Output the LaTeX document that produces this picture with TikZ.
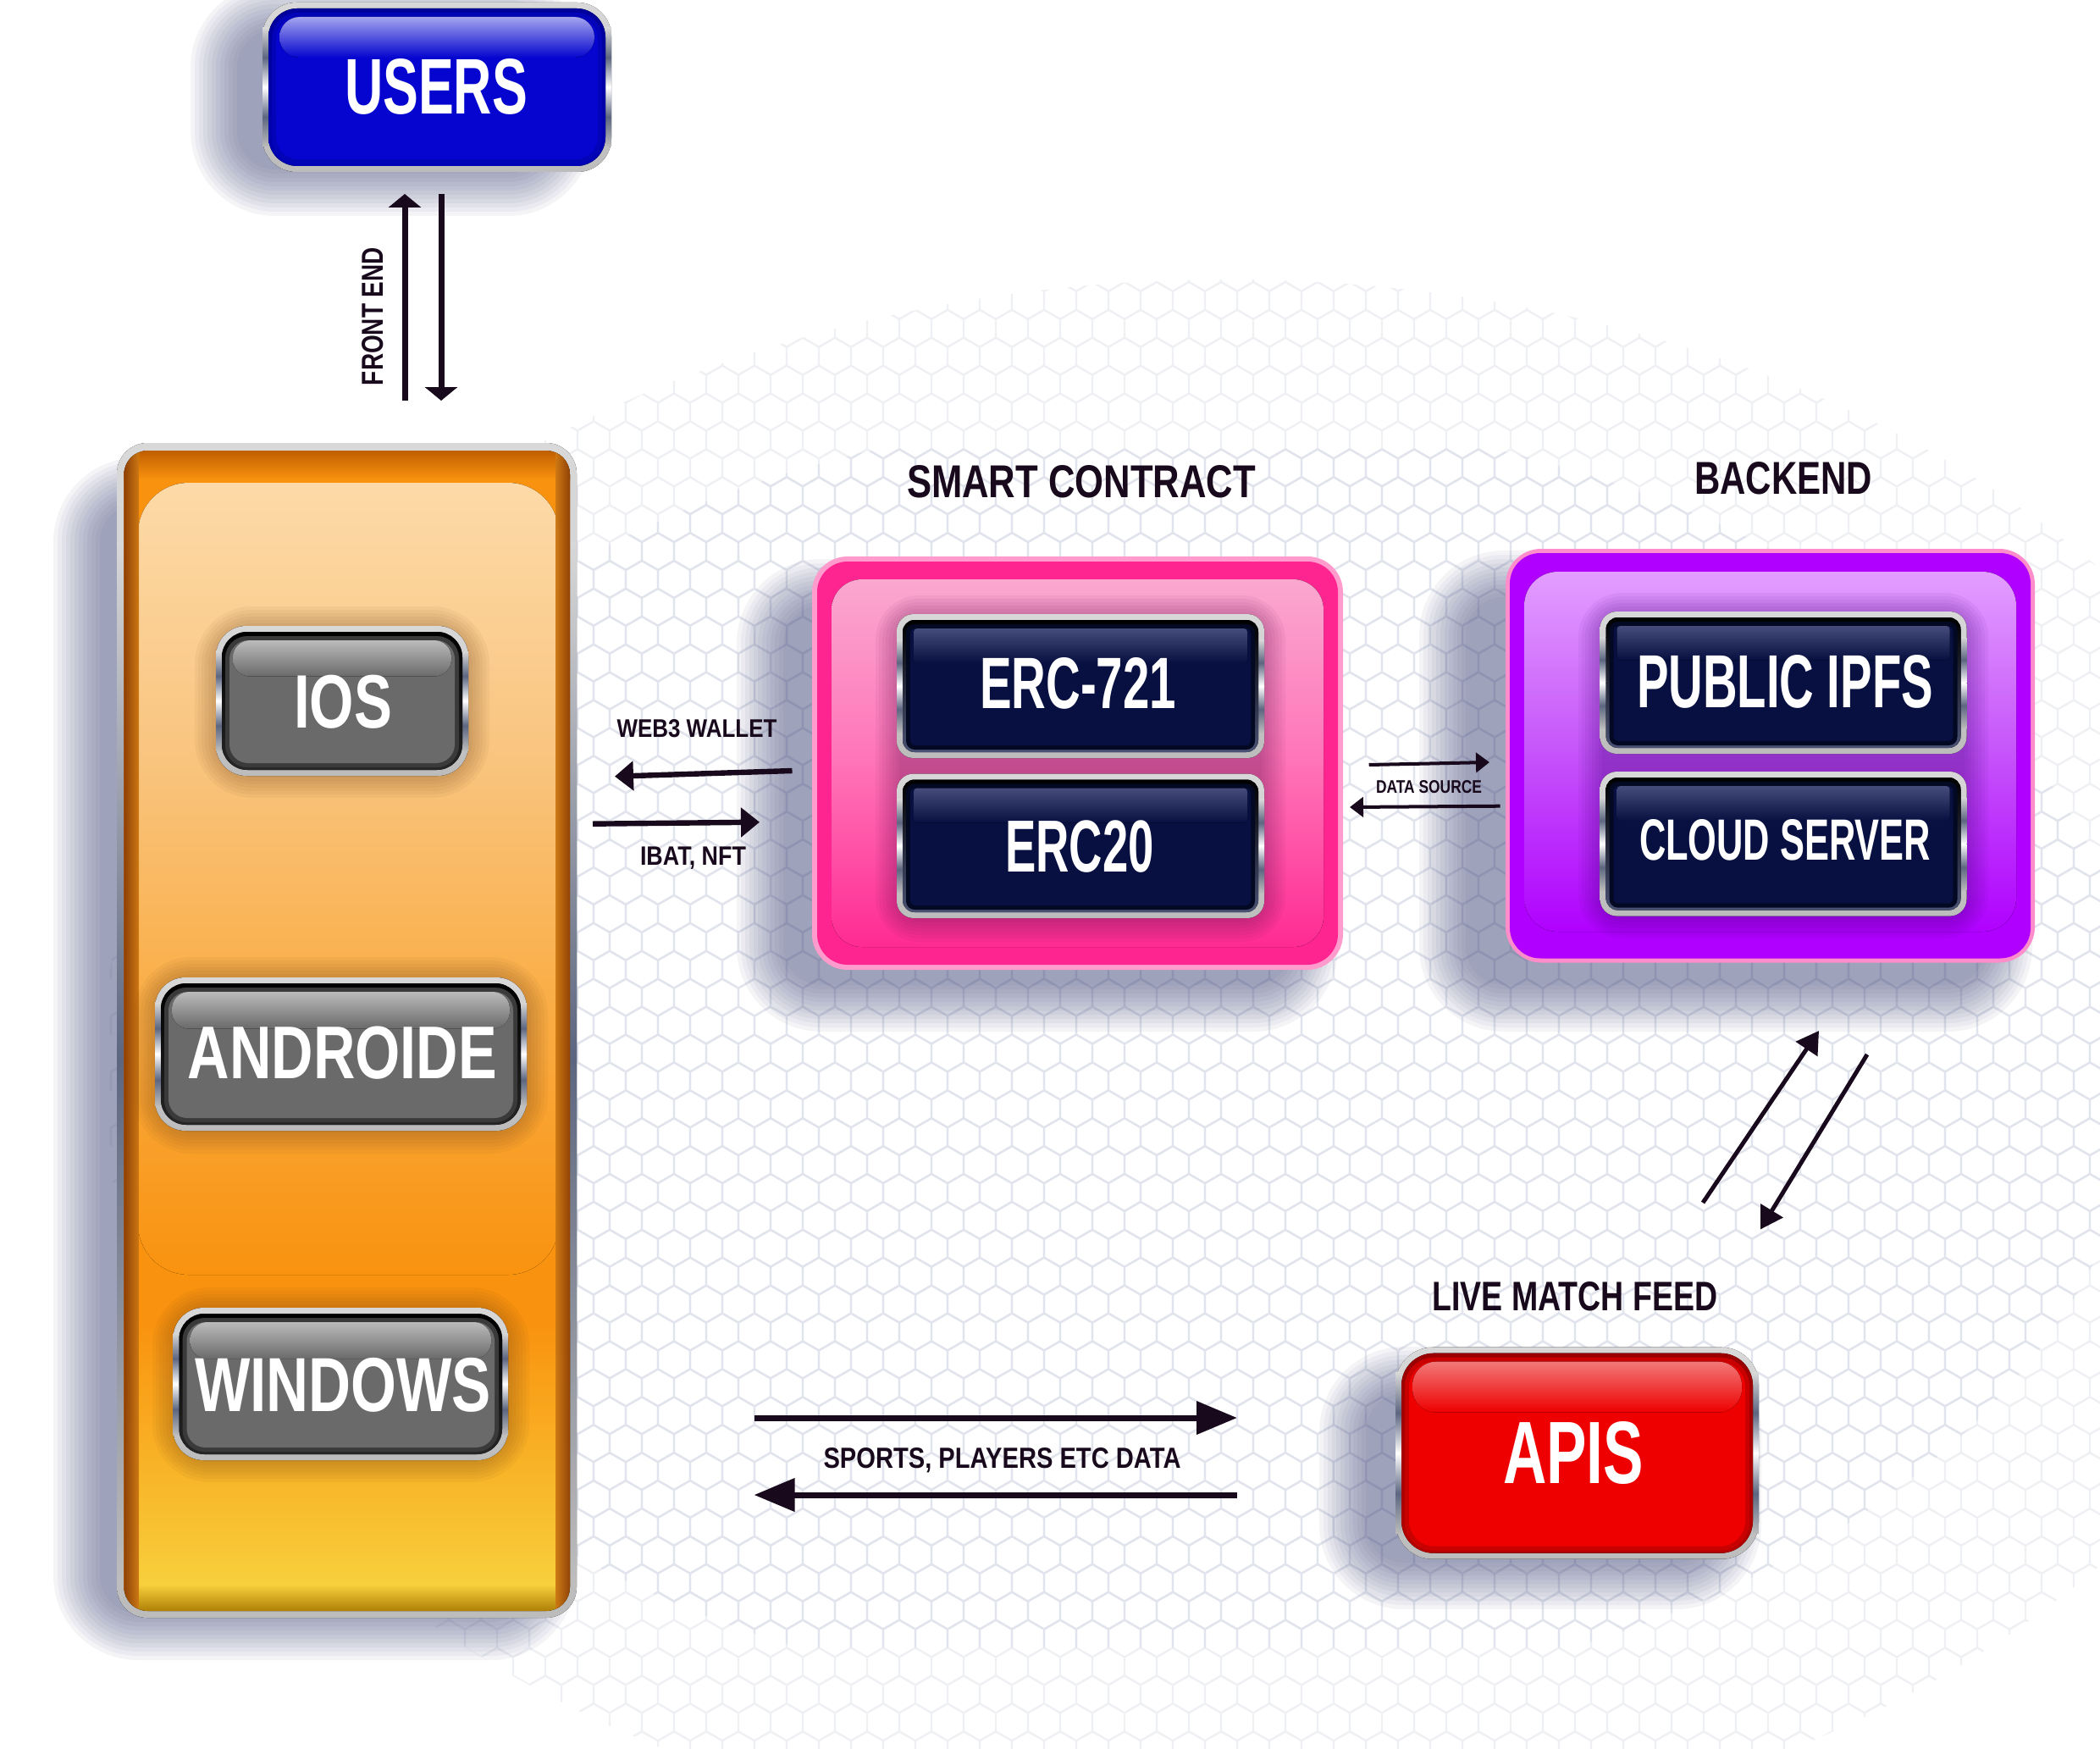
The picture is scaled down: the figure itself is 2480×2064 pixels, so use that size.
\documentclass[tikz,border=0pt]{standalone}
\usepackage{fontspec}
\setmainfont{Liberation Sans}
\usetikzlibrary{arrows.meta}
\definecolor{ink}{HTML}{180A1C}
\definecolor{silT}{HTML}{D8D8D8}
\definecolor{silB}{HTML}{BCBCBC}
\definecolor{hexo}{HTML}{EFF0F4}
\definecolor{hexi}{HTML}{E1E4EC}
\definecolor{shc}{HTML}{4A5282}
\definecolor{slate}{HTML}{5C6680}
% orange
\definecolor{orTop}{HTML}{B85800}
\definecolor{orA}{HTML}{F9920E}
\definecolor{orC}{HTML}{F8CF3C}
\definecolor{orD}{HTML}{A87800}
\definecolor{orEdge}{HTML}{8A3000}
\definecolor{orEdgeIn}{HTML}{F59018}
\definecolor{peA}{HTML}{FDDAA8}
\definecolor{peB}{HTML}{F9C47E}
\definecolor{peC}{HTML}{FAB04C}
\definecolor{orGlow}{HTML}{6E4018}
% pink
\definecolor{pkBorder}{HTML}{FF9CCD}
\definecolor{pkBody}{HTML}{FF2590}
\definecolor{pkA}{HTML}{FAA8D0}
\definecolor{pkB}{HTML}{FF74B8}
\definecolor{pkC}{HTML}{FF2A92}
\definecolor{pkGlow}{HTML}{5A0A4A}
% purple
\definecolor{puBorder}{HTML}{FF8CCB}
\definecolor{puBody}{HTML}{B000FF}
\definecolor{puA}{HTML}{E39EFF}
\definecolor{puB}{HTML}{C450FA}
\definecolor{puGlow}{HTML}{3A0070}

\newcommand\fitt[3]{\resizebox{#1pt}{#2pt}{\bfseries #3}}

% soft shadow: x1 y1 x2 y2 colour radius
\newcommand\softsh[6]{%
  \foreach \k in {1,...,12}{%
    \fill[#5, opacity=0.06, rounded corners={#6+\k*1.25pt}] ({#1-\k*5},{#2-\k*5}) rectangle ({#3+\k*5},{#4+\k*5});}}
% small inner glow shadow
\newcommand\glowsh[6]{%
  \foreach \k in {1,...,8}{%
    \fill[#5, opacity=0.05, rounded corners={#6+\k*1pt}] ({#1-\k*4},{#2-\k*4}) rectangle ({#3+\k*4},{#4+\k*4});}}

% glossy button: x1 y1 x2 y2 radius  (colours rimT rimB bodyC glossC)
\newcommand\gbtn[5]{%
  \fill[top color=silT, bottom color=silB, rounded corners=#5] (#1,#2) rectangle (#3,#4);
  \fill[top color=silT, bottom color=white, middle color=slate] (#1,{#2+30}) rectangle ({#1+7},{(#2+#4)/2});
  \fill[top color=white, bottom color=silB, middle color=slate] (#1,{(#2+#4)/2}) rectangle ({#1+7},{#4-30});
  \fill[top color=silT, bottom color=white, middle color=slate] ({#3-7},{#2+30}) rectangle (#3,{(#2+#4)/2});
  \fill[top color=white, bottom color=silB, middle color=slate] ({#3-7},{(#2+#4)/2}) rectangle (#3,{#4-30});
  \fill[top color=rimT, bottom color=rimB, rounded corners={#5-1.5pt}] ({#1+7},{#2+7}) rectangle ({#3-7},{#4-7});
  \fill[rimT!45!bodyC, rounded corners={#5-2.5pt}] ({#1+11},{#2+12}) rectangle ({#3-11},{#4-10});
  \fill[bodyC, rounded corners={#5-3.5pt}] ({#1+16},{#2+17}) rectangle ({#3-16},{#4-15});
  \fill[top color=glossC, bottom color=bodyC, rounded corners={#5-4pt}] ({#1+20},{#2+17}) rectangle ({#3-20},{#2+17+0.24*(#4-#2)});
}
\newcommand\graybtn{\colorlet{rimT}{black}\colorlet{rimB}{black!85}\definecolor{bodyC}{HTML}{6A6A6A}\definecolor{glossC}{HTML}{BBBBBB}}
\newcommand\navybtn{\colorlet{rimT}{black}\definecolor{rimB}{HTML}{4A5274}\definecolor{bodyC}{HTML}{071040}\definecolor{glossC}{HTML}{454C7C}}
\newcommand\bluebtn{\definecolor{rimT}{HTML}{00009A}\definecolor{rimB}{HTML}{0000B4}\definecolor{bodyC}{HTML}{0505CF}\definecolor{glossC}{HTML}{A4A4EE}}
\newcommand\redbtn{\definecolor{rimT}{HTML}{9A0000}\definecolor{rimB}{HTML}{B40000}\definecolor{bodyC}{HTML}{EE0000}\definecolor{glossC}{HTML}{F27878}}

\begin{document}
\begin{tikzpicture}[x=0.25pt,y=-0.25pt,
  lbl/.style={inner sep=0pt, outer sep=0pt, anchor=base, text=ink},
  wtxt/.style={inner sep=0pt, outer sep=0pt, anchor=base, text=white},
  hexline/.style={line width=0.6pt, line join=round},
  arrF/.style={draw=ink, line width=1.75pt, -{Triangle[length=4pt,width=9.5pt]}},
  arrW/.style={draw=ink, line width=1.6pt, -{Triangle[length=5.5pt,width=8.5pt]}},
  arrD/.style={draw=ink, line width=1pt, -{Triangle[length=4pt,width=5.8pt]}},
  arrS/.style={draw=ink, line width=1.75pt, -{Triangle[length=12pt,width=9.5pt]}},
  arrG/.style={draw=ink, line width=1.25pt, -{Triangle[length=6.5pt,width=7.5pt]}}]

\useasboundingbox (0,0) rectangle (2480,2064);
\fill[white] (0,0) rectangle (2480,2064);

% ---------- hexagon background (two tones to fake a fade) ----------
\begin{scope}
\clip (1450,1260) ellipse [x radius=1330, y radius=930];
\draw[hexline, hexo]
  \foreach \j in {0,...,54}{ \foreach \i in {0,...,61}{
    ({131+38*\i+19*mod(\j,2)},{300+32.91*\j}) -- ++(0,-21.94) -- ++(19,-10.97) -- ++(19,10.97) } };
\end{scope}
\begin{scope}
\clip (1400,1250) ellipse [x radius=1130, y radius=760];
\draw[hexline, hexi]
  \foreach \j in {8,...,50}{ \foreach \i in {3,...,61}{
    ({131+38*\i+19*mod(\j,2)},{300+32.91*\j}) -- ++(0,-21.94) -- ++(19,-10.97) -- ++(19,10.97) } };
\end{scope}

% ---------- soft drop shadows ----------
\softsh{285}{40}{640}{195}{shc}{10pt}
\softsh{123}{600}{620}{1900}{shc}{10pt}
\softsh{930}{720}{1520}{1158}{shc}{10pt}
\softsh{1736}{710}{2340}{1158}{shc}{10pt}
\softsh{1618}{1650}{2020}{1840}{shc}{10pt}

% ---------- USERS ----------
\bluebtn
\gbtn{310}{3}{722}{203}{10pt}
\node[wtxt] (users) at (515,135) {\fitt{54}{16.25}{USERS}};

% FRONT END arrows
\coordinate (feUa) at (478,473); \coordinate (feUb) at (478,229);
\coordinate (feDa) at (521,229); \coordinate (feDb) at (521,473);
\draw[arrF] (feUa) -- (feUb);
\draw[arrF] (feDa) -- (feDb);
\node[lbl, rotate=90] (lfront) at (452,373.5) {\fitt{40.75}{6.25}{FRONT END}};

% ---------- orange client column ----------
\fill[top color=silT, bottom color=silB, rounded corners=9pt] (138,523) rectangle (681,1910);
\fill[top color=silT, bottom color=silB, middle color=slate] (138,640) rectangle (146.5,1860);
\fill[top color=silT, bottom color=silB, middle color=slate] (673,640) rectangle (681,1860);
\begin{scope}
  \clip[rounded corners=7pt] (146.5,532) rectangle (673,1902);
  \fill[top color=orTop, bottom color=orA] (140,528) rectangle (680,566);
  \fill[orA] (140,565) rectangle (680,1560);
  \fill[top color=orA, bottom color=orC] (140,1559) rectangle (680,1872);
  \fill[top color=orC, bottom color=orD] (140,1871) rectangle (680,1905);
  \begin{scope}
    \clip[rounded corners=15pt] (163,570) rectangle (660,1505);
    \fill[top color=peA, bottom color=peB] (160,568) rectangle (665,900);
    \fill[top color=peB, bottom color=peC] (160,899) rectangle (665,1150);
    \fill[top color=peC, bottom color=orA] (160,1149) rectangle (665,1510);
  \end{scope}
  \fill[left color=orEdge, right color=orEdgeIn, opacity=0.8] (140,528) rectangle (164,1905);
  \fill[right color=orEdge, left color=orEdgeIn, opacity=0.8] (656,528) rectangle (680,1905);
\end{scope}

\glowsh{262}{748}{546}{910}{orGlow}{9pt}
\glowsh{190}{1162}{615}{1330}{orGlow}{9pt}
\glowsh{212}{1552}{593}{1718}{orGlow}{9pt}

\graybtn
\gbtn{255}{739}{553}{916}{9pt}
\node[wtxt] (ios) at (405,859) {\fitt{29}{15.6}{IOS}};
\gbtn{183}{1154}{622}{1335}{9pt}
\node[wtxt] (androide) at (404.5,1273) {\fitt{91.25}{15.4}{ANDROIDE}};
\gbtn{204.5}{1544}{600}{1724}{9pt}
\node[wtxt] (windows) at (405,1666) {\fitt{87.5}{15.8}{WINDOWS}};

% ---------- smart contract ----------
\node[lbl] (lsmart) at (1277,587) {\fitt{103}{9.5}{SMART CONTRACT}};
\fill[pkBorder, rounded corners=10.5pt] (959,657) rectangle (1586,1145);
\fill[pkBody, rounded corners=9pt] (965,663) rectangle (1580,1139);
\begin{scope}
  \clip[rounded corners=9pt] (982,684) rectangle (1563,1118);
  \fill[top color=pkA, bottom color=pkB] (980,682) rectangle (1565,900);
  \fill[top color=pkB, bottom color=pkC] (980,899) rectangle (1565,1120);
\end{scope}
\glowsh{1066}{735}{1486}{1080}{pkGlow}{5pt}

\navybtn
\gbtn{1059}{725}{1493}{895}{5pt}
\node[wtxt] (erc721) at (1273,836.5) {\fitt{58}{15}{ERC-721}};
\gbtn{1059}{913.5}{1493}{1084}{5pt}
\node[wtxt] (erc20) at (1275,1029) {\fitt{43.9}{15.2}{ERC20}};

% ---------- backend ----------
\node[lbl] (lbackend) at (2106,583) {\fitt{52.5}{9.5}{BACKEND}};
\fill[puBorder, rounded corners=10.5pt] (1778,648) rectangle (2403,1136.5);
\fill[puBody, rounded corners=9pt] (1783,653) rectangle (2398,1131.5);
\begin{scope}
  \clip[rounded corners=10pt] (1800,675) rectangle (2381,1100);
  \fill[top color=puA, bottom color=puB] (1798,673) rectangle (2383,900);
  \fill[top color=puB, bottom color=puBody] (1798,899) rectangle (2383,1102);
\end{scope}
\glowsh{1896}{732}{2316}{1076}{puGlow}{5pt}

\gbtn{1889.5}{722}{2322.5}{890}{5pt}
\node[wtxt] (ipfs) at (2108,835) {\fitt{87.5}{15.5}{PUBLIC IPFS}};
\gbtn{1889.5}{911}{2322.5}{1081.6}{5pt}
\node[wtxt] (cloud) at (2108,1015) {\fitt{86}{12}{CLOUD SERVER}};

% ---------- APIs ----------
\node[lbl] (llive) at (1860,1547) {\fitt{84.25}{8.5}{LIVE MATCH FEED}};
\redbtn
\gbtn{1648}{1590.7}{2077}{1840.7}{11pt}
\node[wtxt] (apis) at (1858,1751.7) {\fitt{41.5}{18.25}{APIS}};

% ---------- connectors ----------
\coordinate (wa) at (935.5,910);  \coordinate (wb) at (726,916.7);
\coordinate (ia) at (700,972.7);  \coordinate (ib) at (897,970.7);
\draw[arrW] (wa) -- (wb);
\draw[arrW] (ia) -- (ib);
\node[lbl] (lweb3) at (823,870.7) {\fitt{47.25}{5.25}{WEB3 WALLET}};
\node[lbl] (libat) at (818.5,1021.7) {\fitt{31.25}{5.4}{IBAT, NFT}};

\coordinate (da) at (1616.7,903);  \coordinate (db) at (1759,900);
\coordinate (dc) at (1771.7,951.7); \coordinate (dd) at (1594,953);
\draw[arrD] (da) -- (db);
\draw[arrD] (dc) -- (dd);
\node[lbl] (ldata) at (1687.5,936.7) {\fitt{31.25}{3.75}{DATA SOURCE}};

\coordinate (ga) at (2011,1420); \coordinate (gb) at (2148,1217);
\coordinate (gc) at (2205,1245); \coordinate (gd) at (2079,1451.5);
\draw[arrG] (ga) -- (gb);
\draw[arrG] (gc) -- (gd);

\coordinate (sa) at (890.5,1674); \coordinate (sb) at (1461,1674);
\coordinate (sc) at (1461,1765); \coordinate (sd) at (890.5,1765);
\draw[arrS] (sa) -- (sb);
\draw[arrS] (sc) -- (sd);
\node[lbl] (lsports) at (1183.5,1733) {\fitt{105.5}{6}{SPORTS, PLAYERS ETC DATA}};

\end{tikzpicture}
\end{document}
